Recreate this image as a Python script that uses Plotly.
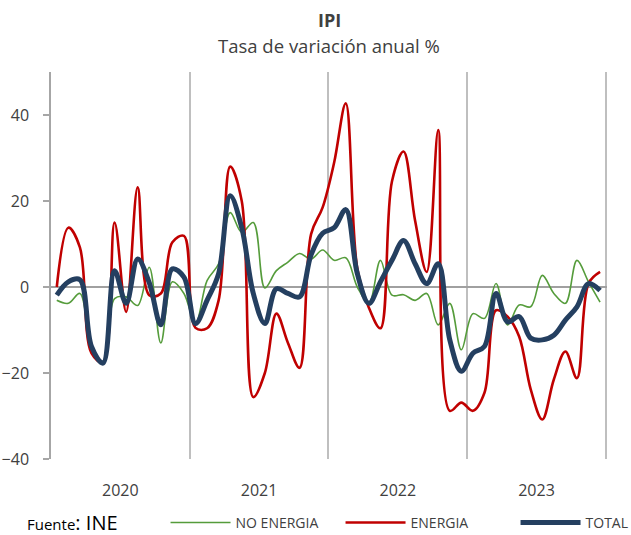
import plotly.graph_objects as go

years = ["2020", "2021", "2022", "2023"]
months = [f"{y}-{m:02d}" for y in years for m in range(1, 13)]

no_energia = [
    -3.1, -3.8, -1.5, -14.0, -17.5, -2.7, -2.3, -4.3, 4.6, -13.0, 1.2, -1.5,
    -8.5, 1.5, 5.4, 17.3, 12.7, 15.0, -0.2, 3.8, 5.8, 7.8, 6.5, 8.6,
    6.2, 6.8, 0.0, -3.8, 6.2, -1.9, -1.8, -3.1, -1.5, -8.8, -3.8, -14.6,
    -6.2, -7.3, 0.8, -8.8, -4.2, -4.6, 2.7, -1.5, -3.8, 6.2, 1.2, -3.5,
]
energia = [
    0.0, 13.8, 9.2, -15.4, -17.5, 15.0, -5.8, 23.2, -1.9, -1.5, 10.4, 11.9,
    -9.5, -9.6, -3.1, 28.0, 20.0, -25.6, -20.0, -6.2, -13.0, -18.8, 12.3, 18.5,
    29.0, 42.7, 4.3, -4.8, -9.6, 24.6, 31.5, 15.4, 3.5, 36.5, -28.8, -26.9,
    -28.8, -24.6, -5.4, -6.9, -11.5, -23.8, -30.8, -21.5, -15.0, -21.2, 0.8, 3.5,
]
total = [
    -1.9, 1.2, 1.7, -13.8, -17.7, 3.8, -3.8, 6.5, 1.0, -8.8, 4.2, 2.3,
    -8.5, -3.1, 3.1, 21.2, 13.8, -1.5, -8.5, -0.4, -1.5, -2.3, 7.5, 12.5,
    13.8, 18.0, 3.1, -3.8, 1.2, 6.2, 10.8, 5.4, 0.8, 5.4, -12.3, -19.6,
    -15.4, -13.8, -1.5, -8.1, -6.9, -11.9, -12.3, -11.2, -7.7, -4.6, 0.8, -0.8,
]
y_ticks = [-40, -20, 0, 20, 40]

x = list(range(len(months)))
FONT = "Open Sans"
TXT = "#404040"

fig = go.Figure()
fig.add_trace(go.Scatter(x=x, y=no_energia, name="NO ENERGIA", mode="lines", text=months,
                         line=dict(color="#559c3b", width=1.6, shape="spline", smoothing=1.0)))
fig.add_trace(go.Scatter(x=x, y=energia, name="ENERGIA", mode="lines", text=months,
                         line=dict(color="#c00000", width=2.6, shape="spline", smoothing=1.0)))
fig.add_trace(go.Scatter(x=x, y=total, name="TOTAL", mode="lines", text=months,
                         line=dict(color="#243f60", width=5, shape="spline", smoothing=1.0)))

fig.update_layout(
    width=631, height=535,
    margin=dict(l=51, r=24, t=72, b=76, autoexpand=False),
    plot_bgcolor="white", paper_bgcolor="white",
    font=dict(family=FONT, color=TXT),
    showlegend=True,
    legend=dict(orientation="h", x=0.206, xanchor="left", y=-0.165, yanchor="middle",
                font=dict(size=14, color=TXT, family=FONT), itemwidth=60,
                entrywidth=100, entrywidthmode="pixels", bgcolor="rgba(0,0,0,0)"),
    xaxis=dict(
        range=[-0.5, 47.6], showline=False, zeroline=False, showgrid=False, automargin=False,
        tickmode="array", tickvals=[5.5, 17.5, 29.5, 41.5], ticktext=years,
        ticks="", ticklabelstandoff=20, tickfont=dict(size=16, color=TXT),
        minor=dict(tickmode="array", tickvals=[11.5, 23.5, 35.5, 47.5], showgrid=True,
                   gridcolor="#bfbfbf", gridwidth=1.5),
    ),
    yaxis=dict(
        range=[-40, 50], tickmode="array", tickvals=y_ticks, automargin=False,
        showgrid=False, showline=True, linecolor="#a6a6a6", linewidth=1.5,
        ticks="outside", ticklen=6, tickcolor="#a6a6a6", tickwidth=1.5,
        zeroline=True, zerolinecolor="#a0a0a0", zerolinewidth=1.6,
        tickfont=dict(size=16, color=TXT), ticklabelstandoff=11,
    ),
    annotations=[
        dict(text="<b>IPI</b>", x=0.5, y=1 + 52 / 387, xref="paper", yref="paper",
             showarrow=False, font=dict(size=18, color=TXT, family=FONT), yanchor="middle"),
        dict(text="Tasa de variación anual %", x=0.5, y=1 + 27 / 387, xref="paper", yref="paper",
             showarrow=False, font=dict(size=18.5, color=TXT, family=FONT), yanchor="middle"),
        dict(text="Fuente<span style='font-size:20px'>: INE</span>", x=-26 / 556, y=-63 / 387,
             xref="paper", yref="paper", xanchor="left", yanchor="middle", showarrow=False,
             font=dict(size=15, color="#000000", family=FONT)),
    ],
)

fig.write_html("out.html", config={"displayModeBar": False},
               post_script="document.body.style.margin='0px';")
